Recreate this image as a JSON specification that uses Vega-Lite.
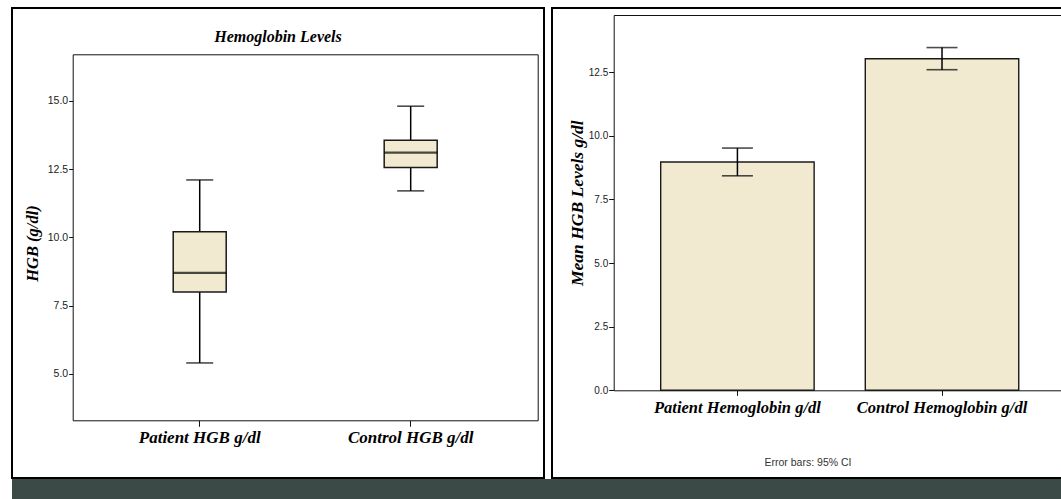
{
  "$schema": "https://vega.github.io/schema/vega-lite/v6.json",
  "background": "white",
  "padding": {"left": 11, "top": 7, "right": 0, "bottom": 0},
  "spacing": 0,
  "config": {
    "view": {"stroke": "black", "strokeWidth": 2, "fill": "white"},
    "axis": {"grid": false, "domainColor": "#111", "domainWidth": 1, "tickColor": "#111", "tickWidth": 1, "labelColor": "#222"}
  },
  "vconcat": [
    {
      "spacing": 6,
      "hconcat": [
        {
          "width": 532,
          "height": 470,
          "title": {
            "text": "Hemoglobin Levels",
            "anchor": "middle",
            "frame": "group",
            "offset": -50,
            "baseline": "alphabetic",
            "font": "Liberation Serif",
            "fontSize": 16,
            "fontStyle": "italic",
            "fontWeight": "bold",
            "color": "black"
          },
          "data": {
            "values": [
              {"group": "Patient HGB g/dl", "min": 5.4, "q1": 8.0, "median": 8.7, "q3": 10.2, "max": 12.1},
              {"group": "Control HGB g/dl", "min": 11.7, "q1": 12.56, "median": 13.1, "q3": 13.55, "max": 14.8}
            ]
          },
          "resolve": {"axis": {"x": "independent", "y": "independent"}},
          "layer": [
            {
              "mark": {"type": "rule", "stroke": "black", "strokeWidth": 1.5},
              "encoding": {
                "x": {
                  "field": "group", "type": "nominal", "sort": null,
                  "scale": {"range": [60.7, 525.7], "paddingInner": 0, "paddingOuter": 0.102},
                  "axis": {
                    "orient": "bottom", "offset": -57.7, "title": null, "labelAngle": 0,
                    "tickSize": 6, "labelPadding": 3,
                    "labelFont": "Liberation Serif", "labelFontSize": 17, "labelFontStyle": "italic", "labelFontWeight": "bold", "labelColor": "black"
                  }
                },
                "y": {
                  "field": "min", "type": "quantitative",
                  "scale": {"domain": [3.3, 16.7], "range": [412.3, 46.3], "nice": false, "zero": false},
                  "axis": {
                    "orient": "left", "offset": -60.7, "values": [5, 7.5, 10, 12.5, 15], "format": ".1f",
                    "tickSize": 4, "labelPadding": 1, "labelFont": "Liberation Sans", "labelFontSize": 10.5,
                    "title": "HGB (g/dl)", "titleFont": "Liberation Serif", "titleFontSize": 16.5, "titleFontStyle": "italic", "titleFontWeight": "bold", "titleColor": "black",
                    "titleX": -40, "titleY": 235, "titleBaseline": "middle"
                  }
                },
                "y2": {"field": "max"}
              }
            },
            {
              "mark": {"type": "bar", "width": 53, "fill": "#f1ead0", "stroke": "#1a1a1a", "strokeWidth": 1.5},
              "encoding": {
                "x": {
                  "field": "group", "type": "nominal", "sort": null,
                  "axis": {"orient": "top", "offset": -46.3, "title": null, "labels": false, "ticks": false}
                },
                "y": {
                  "field": "q1", "type": "quantitative",
                  "axis": {"orient": "right", "offset": -6.3, "title": null, "labels": false, "ticks": false}
                },
                "y2": {"field": "q3"}
              }
            },
            {
              "mark": {"type": "tick", "size": 53, "thickness": 2.2, "color": "black"},
              "encoding": {
                "x": {"field": "group", "type": "nominal", "sort": null, "axis": null},
                "y": {"field": "median", "type": "quantitative", "axis": null}
              }
            },
            {
              "mark": {"type": "tick", "size": 27, "thickness": 1.6, "color": "black"},
              "encoding": {
                "x": {"field": "group", "type": "nominal", "sort": null, "axis": null},
                "y": {"field": "min", "type": "quantitative", "axis": null}
              }
            },
            {
              "mark": {"type": "tick", "size": 27, "thickness": 1.6, "color": "black"},
              "encoding": {
                "x": {"field": "group", "type": "nominal", "sort": null, "axis": null},
                "y": {"field": "max", "type": "quantitative", "axis": null}
              }
            }
          ]
        },
        {
          "width": 512,
          "height": 470,
          "title": {
            "text": "Error bars: 95% CI",
            "orient": "bottom",
            "anchor": "middle",
            "frame": "group",
            "offset": -12,
            "baseline": "alphabetic",
            "font": "Liberation Sans",
            "fontSize": 10.5,
            "fontWeight": "normal",
            "color": "#333"
          },
          "data": {
            "values": [
              {"group": "Patient Hemoglobin g/dl", "mean": 8.97, "lo": 8.43, "hi": 9.52},
              {"group": "Control Hemoglobin g/dl", "mean": 13.03, "lo": 12.6, "hi": 13.47}
            ]
          },
          "resolve": {"axis": {"x": "independent", "y": "independent"}},
          "layer": [
            {
              "mark": {"type": "bar", "fill": "#f1ead0", "stroke": "#1a1a1a", "strokeWidth": 1.4},
              "encoding": {
                "x": {
                  "field": "group", "type": "nominal", "sort": null,
                  "scale": {"range": [61.7, 511], "paddingInner": 0.25, "paddingOuter": 0.223, "align": 0.515},
                  "axis": {
                    "orient": "bottom", "offset": -87.7, "title": null, "labelAngle": 0,
                    "tickSize": 5, "labelPadding": 4,
                    "labelFont": "Liberation Serif", "labelFontSize": 16.5, "labelFontStyle": "italic", "labelFontWeight": "bold", "labelColor": "black"
                  }
                },
                "y": {
                  "field": "mean", "type": "quantitative",
                  "scale": {"domain": [0, 14.75], "range": [382.3, 7], "nice": false, "zero": false},
                  "axis": {
                    "orient": "left", "offset": -61.7, "values": [0, 2.5, 5, 7.5, 10, 12.5], "format": ".1f",
                    "tickSize": 5, "labelPadding": 1, "labelFont": "Liberation Sans", "labelFontSize": 10,
                    "title": "Mean HGB Levels g/dl", "titleFont": "Liberation Serif", "titleFontSize": 17.5, "titleFontStyle": "italic", "titleFontWeight": "bold", "titleColor": "black",
                    "titleX": -36, "titleBaseline": "middle"
                  }
                }
              }
            },
            {
              "mark": {"type": "rule", "stroke": "black", "strokeWidth": 1.5},
              "encoding": {
                "x": {
                  "field": "group", "type": "nominal", "sort": null,
                  "axis": {"orient": "top", "offset": -7, "title": null, "labels": false, "ticks": false}
                },
                "y": {
                  "field": "lo", "type": "quantitative",
                  "axis": {"orient": "right", "offset": -1, "title": null, "labels": false, "ticks": false}
                },
                "y2": {"field": "hi"}
              }
            },
            {
              "mark": {"type": "tick", "size": 31, "thickness": 1.6, "color": "black"},
              "encoding": {
                "x": {"field": "group", "type": "nominal", "sort": null, "axis": null},
                "y": {"field": "lo", "type": "quantitative", "axis": null}
              }
            },
            {
              "mark": {"type": "tick", "size": 31, "thickness": 1.6, "color": "black"},
              "encoding": {
                "x": {"field": "group", "type": "nominal", "sort": null, "axis": null},
                "y": {"field": "hi", "type": "quantitative", "axis": null}
              }
            }
          ]
        }
      ]
    },
    {
      "width": 1050,
      "height": 22,
      "view": {"fill": "#3c4a47", "stroke": null},
      "data": {"values": []},
      "mark": "rect",
      "encoding": {}
    }
  ]
}
